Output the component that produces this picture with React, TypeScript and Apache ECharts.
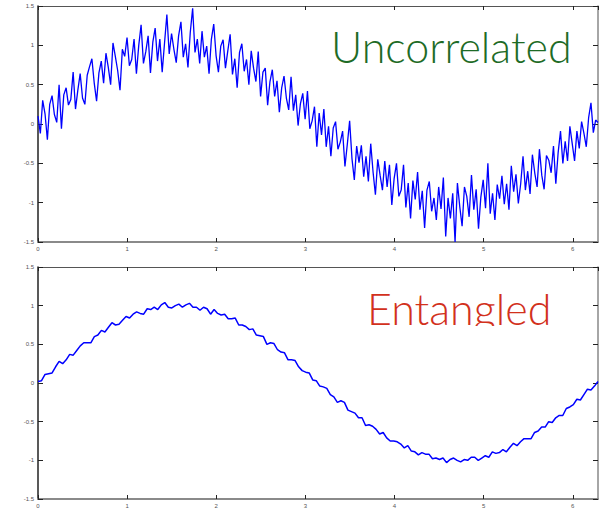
import React, { useEffect, useRef } from "react";
import * as echarts from "echarts";

const X_MAX = 6.283185307179586;

const uncorrelated: number[] = [
  0.10, -0.12, 0.30, 0.13, -0.20, 0.25, 0.36, 0.12, 0.02, 0.50,
  -0.06, 0.37, 0.46, 0.24, 0.31, 0.66, 0.19, 0.43, 0.64, 0.33,
  0.25, 0.62, 0.73, 0.83, 0.52, 0.29, 0.65, 0.80, 0.52, 0.90,
  0.72, 0.50, 1.03, 0.86, 0.68, 0.43, 0.95, 0.86, 1.10, 0.74,
  0.82, 1.08, 0.64, 1.00, 1.26, 0.77, 0.92, 1.12, 0.65, 1.04,
  1.22, 0.80, 1.08, 0.66, 1.03, 1.39, 0.89, 1.15, 0.95, 0.78,
  1.12, 1.30, 0.85, 1.02, 0.72, 1.17, 1.47, 0.91, 1.08, 0.77,
  1.18, 0.85, 0.99, 0.64, 1.08, 1.27, 0.87, 0.66, 0.99, 1.07,
  0.71, 0.93, 1.14, 0.63, 0.83, 0.46, 0.91, 1.02, 0.67, 0.82,
  0.50, 0.93, 0.71, 0.54, 0.92, 0.35, 0.66, 0.71, 0.24, 0.54,
  0.69, 0.35, 0.55, 0.15, 0.46, 0.61, 0.33, 0.18, 0.60, 0.17,
  0.37, -0.02, 0.26, 0.39, 0.06, 0.42, -0.06, 0.04, 0.22, -0.29,
  0.14, -0.14, 0.19, -0.29, -0.03, -0.41, -0.05, 0.03, -0.32, -0.23,
  -0.09, -0.54, -0.26, 0.04, -0.44, -0.71, -0.28, -0.49, -0.27, -0.67,
  -0.41, -0.73, -0.25, -0.61, -0.90, -0.45, -0.65, -0.84, -0.47, -0.80,
  -0.52, -1.03, -0.69, -0.50, -0.92, -0.84, -0.52, -1.06, -0.75, -1.20,
  -0.72, -0.96, -0.61, -1.09, -0.85, -1.32, -0.84, -0.73, -1.11, -0.94,
  -1.22, -0.80, -1.08, -0.68, -1.43, -0.94, -1.20, -0.88, -1.50, -0.75,
  -1.05, -1.30, -0.80, -0.92, -1.18, -0.65, -1.09, -0.83, -1.33, -0.93,
  -0.71, -1.07, -0.50, -1.14, -0.88, -1.22, -0.77, -0.95, -0.66, -1.02,
  -0.76, -1.09, -0.53, -0.86, -0.64, -1.01, -0.76, -0.41, -0.84, -0.60,
  -0.89, -0.39, -0.62, -0.80, -0.32, -0.65, -0.83, -0.40, -0.46, -0.62,
  -0.28, -0.76, -0.36, -0.09, -0.50, -0.22, -0.47, -0.03, -0.25, -0.47,
  -0.09, -0.31, 0.03, -0.12, -0.29, 0.08, 0.27, -0.11, 0.05, 0.02,
];

const entangled: number[] = [
  0.02, 0.03, 0.11, 0.12, 0.13, 0.21, 0.28, 0.25, 0.30, 0.37,
  0.36, 0.42, 0.48, 0.52, 0.52, 0.52, 0.60, 0.62, 0.68, 0.66,
  0.72, 0.78, 0.75, 0.76, 0.81, 0.86, 0.84, 0.89, 0.92, 0.90,
  0.89, 0.96, 0.95, 0.98, 0.95, 1.01, 1.04, 0.98, 0.97, 1.00,
  1.02, 0.98, 1.01, 1.03, 0.98, 0.98, 0.94, 0.98, 0.96, 0.89,
  0.95, 0.90, 0.88, 0.89, 0.83, 0.83, 0.84, 0.75, 0.75, 0.73,
  0.69, 0.70, 0.62, 0.61, 0.60, 0.50, 0.52, 0.51, 0.43, 0.40,
  0.39, 0.30, 0.30, 0.29, 0.21, 0.16, 0.14, 0.13, 0.04, 0.03,
  -0.04, -0.05, -0.07, -0.15, -0.18, -0.25, -0.23, -0.25, -0.35, -0.37,
  -0.39, -0.45, -0.45, -0.55, -0.54, -0.56, -0.60, -0.66, -0.64, -0.71,
  -0.75, -0.75, -0.76, -0.79, -0.84, -0.81, -0.88, -0.89, -0.93, -0.90,
  -0.92, -0.92, -0.98, -0.97, -0.99, -0.97, -1.03, -0.99, -0.97, -1.00,
  -1.02, -0.99, -1.00, -0.96, -0.96, -1.00, -0.97, -0.94, -0.96, -0.89,
  -0.91, -0.90, -0.86, -0.89, -0.83, -0.78, -0.81, -0.76, -0.72, -0.72,
  -0.72, -0.64, -0.62, -0.57, -0.57, -0.50, -0.51, -0.45, -0.42, -0.42,
  -0.33, -0.31, -0.28, -0.21, -0.22, -0.15, -0.08, -0.09, -0.04, 0.02,
];

const xTickLabels = ["0", "1", "2", "3", "4", "5", "6"];
const yTickLabels = ["-1.5", "-1", "-0.5", "0", "0.5", "1", "1.5"];

function toPairs(values: number[]): [number, number][] {
  const step = X_MAX / (values.length - 1);
  return values.map((v, i) => [i * step, v]);
}

export default function App() {
  const ref = useRef<HTMLDivElement>(null);
  useEffect(() => {
    if (!ref.current) return;
    const chart = echarts.init(ref.current, null, { renderer: "svg" });
    const labelStyle = { fontSize: 6, color: "#555", fontFamily: "Liberation Sans" };
    const grids = [
      { left: 38, top: 6, width: 560, height: 236 },
      { left: 38, top: 267, width: 560, height: 236 },
    ];
    const xAxes: any[] = [];
    const yAxes: any[] = [];
    grids.forEach((_, g) => {
      xAxes.push({
        type: "value", gridIndex: g, position: "bottom", min: 0, max: X_MAX, interval: 1,
        axisLine: { onZero: false, lineStyle: { color: "#8a8a8a", width: 2 } },
        axisTick: { inside: true, length: 4, lineStyle: { color: "#222", width: 1 } },
        axisLabel: {
          ...labelStyle, margin: 4, showMaxLabel: false,
          formatter: (v: number) => (Number.isInteger(v) ? xTickLabels[v] : ""),
        },
        splitLine: { show: false },
      });
      xAxes.push({
        type: "value", gridIndex: g, position: "top", min: 0, max: X_MAX, interval: 1,
        axisLine: { onZero: false, lineStyle: { color: "#555", width: 1 } },
        axisTick: { inside: true, length: 4, lineStyle: { color: "#222", width: 1 } },
        axisLabel: { show: false },
        splitLine: { show: false },
      });
      yAxes.push({
        type: "value", gridIndex: g, position: "left", min: -1.5, max: 1.5, interval: 0.5,
        axisLine: { onZero: false, lineStyle: { color: "#222", width: 1.5 } },
        axisTick: { inside: true, length: 5, lineStyle: { color: "#222", width: 1 } },
        axisLabel: {
          ...labelStyle, margin: 4,
          formatter: (v: number) => yTickLabels[Math.round((v + 1.5) / 0.5)] ?? "",
        },
        splitLine: { show: false },
      });
      yAxes.push({
        type: "value", gridIndex: g, position: "right", min: -1.5, max: 1.5, interval: 0.5,
        axisLine: { onZero: false, lineStyle: { color: "#888", width: 1.5 } },
        axisTick: { inside: true, length: 5, lineStyle: { color: "#222", width: 1 } },
        axisLabel: { show: false },
        splitLine: { show: false },
      });
    });
    chart.setOption({
      animation: false,
      backgroundColor: "#fff",
      grid: grids,
      xAxis: xAxes,
      yAxis: yAxes,
      series: [
        {
          type: "line", xAxisIndex: 0, yAxisIndex: 0, data: toPairs(uncorrelated),
          showSymbol: false, lineStyle: { color: "#0000ff", width: 1.3 }, z: 3,
        },
        {
          type: "line", xAxisIndex: 2, yAxisIndex: 2, data: toPairs(entangled),
          showSymbol: false, lineStyle: { color: "#0000ff", width: 1.5 }, z: 3,
        },
      ],
      graphic: [
        {
          type: "text", left: 331, top: 25, z: 10,
          style: { text: "Uncorrelated", fill: "#1e6b26", font: "300 43px Lato" },
        },
        {
          type: "text", left: 367, top: 287, z: 10,
          style: { text: "Entangled", fill: "#d2311c", font: "300 43px Lato" },
        },
        {
          type: "rect", shape: { x: 360, y: 326, width: 200, height: 14 }, z: 11,
          style: { fill: "#fff" },
        },
      ],
    });
    return () => chart.dispose();
  }, []);
  return (
    <div
      ref={ref}
      style={{ position: "fixed", left: 0, top: 0, width: 603, height: 509 }}
    />
  );
}
